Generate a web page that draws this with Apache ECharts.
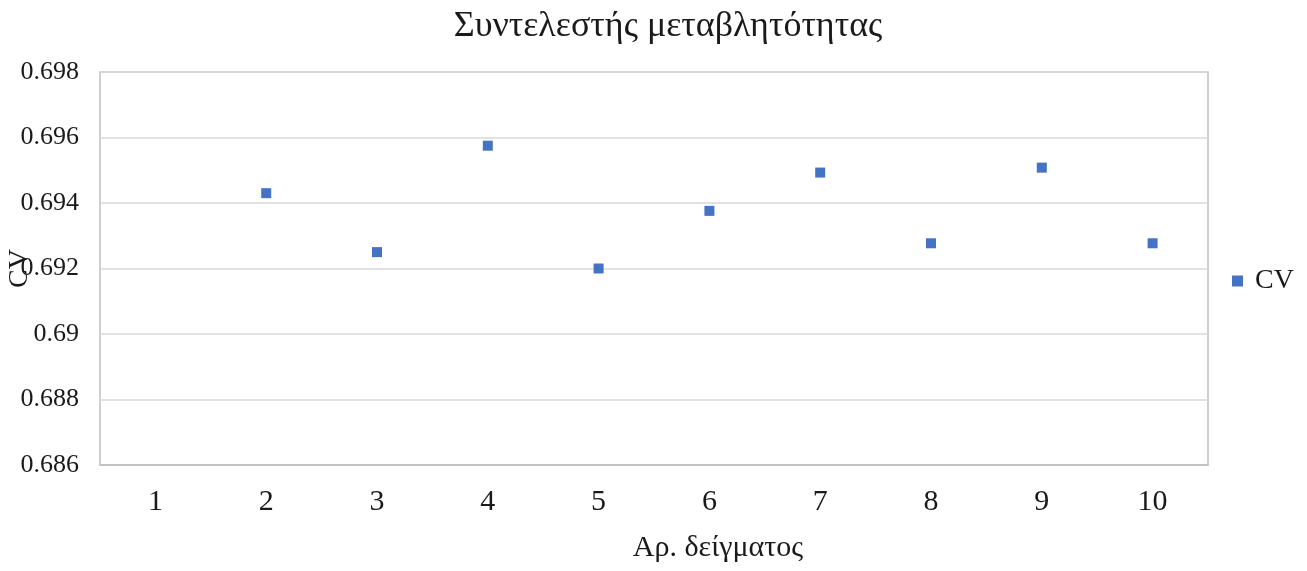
<!DOCTYPE html>
<html>
<head>
<meta charset="utf-8">
<script src="https://cdn.jsdelivr.net/npm/echarts@6/dist/echarts.min.js"></script>
<style>
html, body { margin: 0; padding: 0; background: #fff; }
#main { width: 1307px; height: 571px; }
</style>
</head>
<body>
<div id="main"></div>
<script>
var sampleNumbers = ['1', '2', '3', '4', '5', '6', '7', '8', '9', '10'];
// sample 1 has no point in the picture
var cvValues = ['-', 0.6943, 0.6925, 0.69575, 0.6920, 0.69376, 0.69493, 0.69277, 0.69508, 0.69277];
var yTicks = [0.686, 0.688, 0.69, 0.692, 0.694, 0.696, 0.698];

var serif = 'Liberation Serif';
var myChart = echarts.init(document.getElementById('main'));
var option = {
    backgroundColor: '#fff',
    title: {
        text: 'Συντελεστής μεταβλητότητας',
        left: 663,
        textAlign: 'center',
        top: 4,
        textStyle: { fontFamily: serif, fontSize: 36, fontWeight: 'normal', color: '#1a1a1a' }
    },
    legend: {
        data: ['CV'],
        orient: 'vertical',
        left: 1227,
        top: 262,
        itemWidth: 11,
        itemHeight: 11,
        textStyle: { fontFamily: serif, fontSize: 28, color: '#1a1a1a', padding: [0, 0, 0, 7] }
    },
    grid: {
        left: 100,
        right: 99,
        top: 72,
        bottom: 106,
        outerBoundsMode: 'none',
        show: true,
        borderColor: '#bfbfbf',
        borderWidth: 1.5
    },
    xAxis: {
        type: 'category',
        data: sampleNumbers,
        boundaryGap: true,
        name: 'Αρ. δείγματος',
        nameLocation: 'middle',
        nameGap: 68,
        nameTextStyle: { fontFamily: serif, fontSize: 30, color: '#1a1a1a', padding: [0, 0, 0, 128] },
        axisLine: { lineStyle: { color: '#bfbfbf', width: 1.5 } },
        axisTick: { show: false },
        axisLabel: { fontFamily: serif, fontSize: 30, color: '#1a1a1a', margin: 22 },
        splitLine: { show: false }
    },
    yAxis: {
        type: 'value',
        min: yTicks[0],
        max: yTicks[yTicks.length - 1],
        interval: 0.002,
        name: 'CV',
        nameLocation: 'middle',
        nameGap: 66,
        nameRotate: 90,
        nameMoveOverlap: false,
        nameTextStyle: { fontFamily: serif, fontSize: 28, color: '#1a1a1a' },
        axisLine: { show: false },
        axisTick: { show: false },
        axisLabel: {
            fontFamily: serif, fontSize: 26, color: '#1a1a1a', margin: 21,
            formatter: function (v) { return String(parseFloat(v.toFixed(3))); }
        },
        splitLine: { lineStyle: { color: '#d9d9d9', width: 1.5 } }
    },
    series: [
        {
            name: 'CV',
            type: 'scatter',
            symbol: 'rect',
            symbolSize: 10,
            itemStyle: { color: '#4472C4', opacity: 1 },
            data: cvValues
        }
    ]
};
myChart.setOption(option);
</script>
</body>
</html>
